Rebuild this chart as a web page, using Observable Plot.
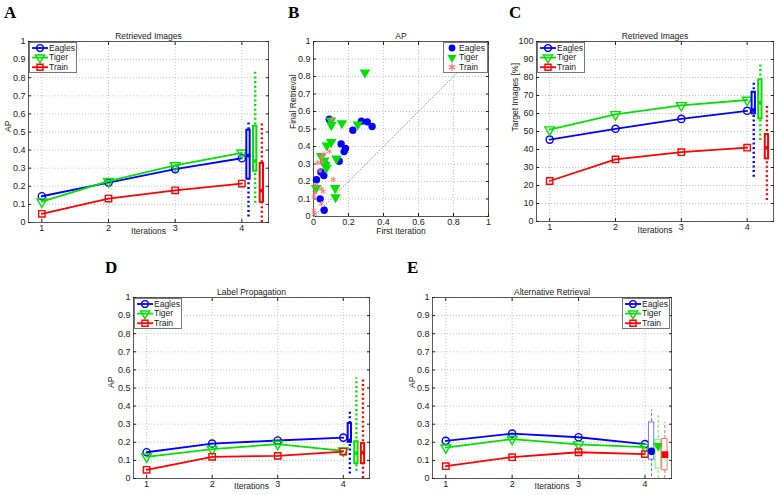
<!DOCTYPE html>
<html><head><meta charset="utf-8">
<script src="https://cdn.jsdelivr.net/npm/d3@7"></script>
<script src="https://cdn.jsdelivr.net/npm/@observablehq/plot@0.6"></script>
<style>
body{margin:0;background:#fff;}
#root{position:relative;width:777px;height:495px;overflow:hidden;background:#fff;color:#222;font-family:"Liberation Sans",Arial,Helvetica,sans-serif;}
.letter{position:absolute;font-family:"Liberation Serif","DejaVu Serif",serif;font-weight:bold;font-size:17px;line-height:1;color:#000;}
</style>
</head><body><div id="root"></div>
<script>
// ---------- shared ----------
const iterations = [1, 2, 3, 4];
const seriesNames = ["Eagles", "Tiger", "Train"];
const seriesColors = ["#0000ff", "#00e000", "#ff0000"];
const boxPositions = [4.1, 4.2, 4.3];
const apTicks = [0, 0.1, 0.2, 0.3, 0.4, 0.5, 0.6, 0.7, 0.8, 0.9, 1];
const pctTicks = [0, 10, 20, 30, 40, 50, 60, 70, 80, 90, 100];
const scatterXTicks = [0, 0.2, 0.4, 0.6, 0.8, 1];

// ---------- A: Retrieved Images (AP) ----------
const retrievedApEagles = [0.145, 0.22, 0.295, 0.355];
const retrievedApTiger = [0.115, 0.228, 0.315, 0.385];
const retrievedApTrain = [0.048, 0.132, 0.178, 0.215];
// box stats: [low whisker, q1, median, q3, high whisker]
const retrievedApBoxEagles = [0.03, 0.24, 0.37, 0.51, 0.56];
const retrievedApBoxTiger = [0.107, 0.283, 0.34, 0.532, 0.83];
const retrievedApBoxTrain = [0.0, 0.112, 0.177, 0.326, 0.558];

// ---------- B: AP scatter ----------
const eaglesFirst = [0.09, 0.274, 0.307, 0.335, 0.225, 0.158, 0.183, 0.175, 0.147, 0.059, 0.042, 0.059, 0.017, 0.038, 0.061];
const eaglesFinal = [0.556, 0.545, 0.541, 0.514, 0.493, 0.415, 0.389, 0.371, 0.316, 0.312, 0.255, 0.234, 0.21, 0.101, 0.036];
const tigerFirst = [0.294, 0.1, 0.102, 0.162, 0.253, 0.101, 0.076, 0.044, 0.061, 0.069, 0.074, 0.131, 0.015, 0.124, 0.126];
const tigerFinal = [0.822, 0.548, 0.522, 0.533, 0.526, 0.425, 0.406, 0.345, 0.32, 0.295, 0.278, 0.331, 0.162, 0.162, 0.11];
const trainFirst = [0.105, 0.09, 0.06, 0.048, 0.025, 0.048, 0.037, 0.113, 0.013, 0.045, 0.055, 0.008, 0.003, 0.045, 0.002, 0.005];
const trainFinal = [0.556, 0.372, 0.356, 0.34, 0.308, 0.309, 0.262, 0.212, 0.178, 0.158, 0.143, 0.135, 0.11, 0.073, 0.034, 0.013];
const diagonal = [0, 1];

// ---------- C: Retrieved Images (Target Images %) ----------
const targetEagles = [45.5, 51.5, 57, 61.5];
const targetTiger = [51, 59.5, 64.5, 67.5];
const targetTrain = [22.5, 34.5, 38.5, 41];
const targetBoxEagles = [24.6, 59.8, 62, 71.8, 78];
const targetBoxTiger = [45, 57, 66, 78.7, 87.2];
const targetBoxTrain = [11.7, 34.8, 41, 48.3, 64.8];

// ---------- D: Label Propagation ----------
const labelPropEagles = [0.145, 0.193, 0.21, 0.226];
const labelPropTiger = [0.12, 0.162, 0.19, 0.153];
const labelPropTrain = [0.048, 0.12, 0.125, 0.149];
const labelPropBoxEagles = [0.025, 0.2, 0.21, 0.304, 0.37];
const labelPropBoxTiger = [0.04, 0.082, 0.14, 0.203, 0.555];
const labelPropBoxTrain = [0.0, 0.082, 0.143, 0.193, 0.555];

// ---------- E: Alternative Retrieval ----------
const altEagles = [0.208, 0.248, 0.228, 0.19];
const altTiger = [0.17, 0.218, 0.188, 0.173];
const altTrain = [0.068, 0.118, 0.145, 0.135];
const altBoxEagles = [0.01, 0.104, 0.15, 0.31, 0.378];
const altBoxTiger = [0.0, 0.055, 0.18, 0.214, 0.36];
const altBoxTrain = [0.0, 0.046, 0.132, 0.218, 0.31];

// ---------- drawing ----------
const root = document.getElementById("root");
const FONT = '"Liberation Sans", Arial, Helvetica, sans-serif';
const triangleDown = {
  draw(context, size) {
    const s3 = Math.sqrt(3);
    const y = -Math.sqrt(size / (s3 * 3));
    context.moveTo(0, -y * 2);
    context.lineTo(-s3 * y, y);
    context.lineTo(s3 * y, y);
    context.closePath();
  }
};
const seriesSymbols = [d3.symbolCircle, triangleDown, d3.symbolSquare];
const M = {l: 44, r: 10, t: 24, b: 24};
const fmt = d3.format("~g");

function place(node, left, top) {
  node.style.position = "absolute";
  node.style.left = left + "px";
  node.style.top = top + "px";
  root.appendChild(node);
}

function axesMarks(xTicks, yTicks, o) {
  const grid = {stroke: "#b5b5b5", strokeOpacity: 1, strokeDasharray: "1,2", strokeWidth: 0.8};
  return [
    Plot.gridY({ticks: yTicks, ...grid}),
    Plot.gridX({ticks: xTicks, ...grid}),
    Plot.frame({stroke: "#333", strokeWidth: 0.8}),
    Plot.axisY({ticks: yTicks, anchor: "left", tickSize: -3, tickPadding: 6, tickFormat: fmt, label: null, fontSize: 9}),
    Plot.axisY({ticks: yTicks, anchor: "right", tickSize: -3, tickFormat: () => "", label: null}),
    Plot.axisX({ticks: xTicks, anchor: "bottom", tickSize: -3, tickPadding: 5, tickFormat: fmt, label: null, fontSize: 9}),
    Plot.axisX({ticks: xTicks, anchor: "top", tickSize: -3, tickFormat: () => "", label: null}),
    Plot.text([o.title], {frameAnchor: "top", dy: -8.5, text: d => d, fontSize: 8.5}),
    Plot.text([o.ylabel], {frameAnchor: "left", rotate: -90, dx: -o.ylabelOffset, text: d => d, fontSize: 8.5}),
    Plot.text([o.xlabel], {frameAnchor: "bottom", dy: o.xlabelOffset, text: d => d, fontSize: 8.5})
  ];
}

function linePanel(o) {
  const [fl, ft, fr, fb] = o.frame;
  const marks = axesMarks(iterations, o.yTicks, {title: o.title, ylabel: o.ylabel, ylabelOffset: o.ylabelOffset, xlabel: "Iterations", xlabelOffset: o.xlabelOffset || 11});
  o.series.forEach((vals, si) => {
    const pts = iterations.map((x, i) => ({x, y: vals[i]}));
    marks.push(Plot.line(pts, {x: "x", y: "y", stroke: seriesColors[si], strokeWidth: 1.8}));
    marks.push(Plot.dot(pts, {x: "x", y: "y", stroke: seriesColors[si], symbol: seriesSymbols[si], r: 3.6, strokeWidth: 1.4}));
  });
  o.boxes.forEach((b, si) => {
    const d = [{x: boxPositions[si], lo: b[0], q1: b[1], med: b[2], q3: b[3], hi: b[4]}];
    const c = seriesColors[si];
    if (o.thin) {
      marks.push(Plot.ruleX(d, {x: "x", y1: "lo", y2: "hi", stroke: c, strokeOpacity: 0.6, strokeWidth: 1, strokeDasharray: "3,2"}));
      marks.push(Plot.rect(d, {x1: r => r.x - 0.04, x2: r => r.x + 0.04, y1: "q1", y2: "q3", fill: "white", stroke: c, strokeOpacity: 0.55, strokeWidth: 1}));
      marks.push(Plot.dot(d, {x: "x", y: "med", fill: c, symbol: seriesSymbols[si], r: 3.8}));
    } else {
      marks.push(Plot.ruleX(d, {x: "x", y1: "lo", y2: "hi", stroke: c, strokeWidth: 2.4, strokeDasharray: "2,2.6"}));
      marks.push(Plot.rect(d, {x1: r => r.x - 0.025, x2: r => r.x + 0.025, y1: "q1", y2: "q3", fill: "white", stroke: c, strokeWidth: 2}));
      marks.push(Plot.dot(d, {x: "x", y: "med", fill: c, r: 2}));
    }
  });
  const svg = Plot.plot({
    width: fr - fl + M.l + M.r, height: fb - ft + M.t + M.b,
    marginLeft: M.l, marginRight: M.r, marginTop: M.t, marginBottom: M.b,
    x: {domain: [0.8, 4.4]}, y: {domain: o.yDomain},
    style: {fontFamily: FONT, fontSize: "9px", background: "transparent", overflow: "visible", color: "#222"},
    marks
  });
  place(svg, fl - M.l, ft - M.t);
}

function legend(x, y, w, h, opts) {
  const div = document.createElement("div");
  Object.assign(div.style, {width: w + "px", height: h + "px", border: "1px solid #777", background: "#fff", boxSizing: "border-box", overflow: "visible"});
  const svg = d3.create("svg").attr("width", w - 2).attr("height", h - 2).style("display", "block").style("overflow", "visible");
  seriesNames.forEach((name, i) => {
    const cy = opts.y0 + i * opts.step;
    const c = seriesColors[i];
    if (opts.lines) {
      svg.append("line").attr("x1", opts.lx1).attr("x2", opts.lx2).attr("y1", cy).attr("y2", cy)
        .attr("stroke", c).attr("stroke-width", 1.8);
    }
    const sym = opts.symbols[i];
    const p = svg.append("path").attr("d", d3.symbol(sym, Math.PI * opts.r * opts.r)())
      .attr("transform", `translate(${opts.mx},${cy})`);
    if (opts.style[i] === "fill") p.attr("fill", opts.colors ? opts.colors[i] : c).attr("stroke", "none");
    else p.attr("fill", "none").attr("stroke", opts.colors ? opts.colors[i] : c).attr("stroke-width", 1.4);
    svg.append("text").attr("x", opts.tx).attr("y", cy).attr("dy", "0.34em")
      .attr("font-size", 8.5).attr("font-family", FONT).attr("fill", "#222").text(name);
  });
  div.appendChild(svg.node());
  place(div, x, y);
}

const lineLegendOpts = {lines: true, lx1: 2, lx2: 18, mx: 10, tx: 19, y0: 5, step: 9.6, r: 3.4,
  symbols: seriesSymbols, style: ["stroke", "stroke", "stroke"]};

// Panel A
linePanel({frame: [28, 41, 268, 222], yDomain: [0, 1], yTicks: apTicks, title: "Retrieved Images", ylabel: "AP", ylabelOffset: 20,
  series: [retrievedApEagles, retrievedApTiger, retrievedApTrain],
  boxes: [retrievedApBoxEagles, retrievedApBoxTiger, retrievedApBoxTrain]});
legend(29, 42, 48, 31, lineLegendOpts);

// Panel B
(function () {
  const [fl, ft, fr, fb] = [313, 41, 488, 216];
  const marks = axesMarks(scatterXTicks, apTicks, {title: "AP", ylabel: "Final Retrieval", ylabelOffset: 20, xlabel: "First Iteration", xlabelOffset: 17});
  marks.push(Plot.line(diagonal, {x: d => d, y: d => d, stroke: "#999", strokeWidth: 0.9, strokeDasharray: "1,2"}));
  marks.push(Plot.dot(eaglesFirst.map((x, i) => [x, eaglesFinal[i]]), {x: d => d[0], y: d => d[1], fill: "#0000ff", r: 3.7}));
  marks.push(Plot.dot(tigerFirst.map((x, i) => [x, tigerFinal[i]]), {x: d => d[0], y: d => d[1], fill: "#00e000", symbol: triangleDown, r: 3.9}));
  marks.push(Plot.dot(trainFirst.map((x, i) => [x, trainFinal[i]]), {x: d => d[0], y: d => d[1], stroke: "#ff7777", symbol: "asterisk", r: 2.6, strokeWidth: 1}));
  const svg = Plot.plot({
    width: fr - fl + M.l + M.r, height: fb - ft + M.t + M.b,
    marginLeft: M.l, marginRight: M.r, marginTop: M.t, marginBottom: M.b,
    x: {domain: [0, 1]}, y: {domain: [0, 1]},
    style: {fontFamily: FONT, fontSize: "9px", background: "transparent", overflow: "visible", color: "#222"},
    marks
  });
  place(svg, fl - M.l, ft - M.t);
})();
legend(443, 42, 45, 31, {lines: false, mx: 8, tx: 15, y0: 5, step: 9.6, r: 3.4,
  symbols: [d3.symbolCircle, triangleDown, d3.symbolAsterisk], style: ["fill", "fill", "stroke"],
  colors: ["#0000ff", "#00e000", "#ff7777"]});

// Panel C
linePanel({frame: [536, 41, 773, 221], yDomain: [0, 100], yTicks: pctTicks, title: "Retrieved Images", ylabel: "Target Images [%]", ylabelOffset: 21,
  series: [targetEagles, targetTiger, targetTrain],
  boxes: [targetBoxEagles, targetBoxTiger, targetBoxTrain]});
legend(537, 42, 48, 31, lineLegendOpts);

// Panel D
linePanel({frame: [133, 297, 369, 478], yDomain: [0, 1], yTicks: apTicks, title: "Label Propagation", ylabel: "AP", ylabelOffset: 22, xlabelOffset: 10,
  series: [labelPropEagles, labelPropTiger, labelPropTrain],
  boxes: [labelPropBoxEagles, labelPropBoxTiger, labelPropBoxTrain]});
legend(134, 298, 48, 31, lineLegendOpts);

// Panel E
linePanel({frame: [432, 297, 671, 478], yDomain: [0, 1], yTicks: apTicks, title: "Alternative Retrieval", ylabel: "AP", ylabelOffset: 20, xlabelOffset: 10, thin: true,
  series: [altEagles, altTiger, altTrain],
  boxes: [altBoxEagles, altBoxTiger, altBoxTrain]});
legend(622, 298, 48, 31, lineLegendOpts);

// Panel letters
[["A", 4, 4], ["B", 288, 4], ["C", 509, 4], ["D", 105, 259], ["E", 407, 259]].forEach(([t, x, y]) => {
  const s = document.createElement("div");
  s.className = "letter";
  s.textContent = t;
  s.style.left = x + "px";
  s.style.top = y + "px";
  root.appendChild(s);
});
</script>
</body></html>
